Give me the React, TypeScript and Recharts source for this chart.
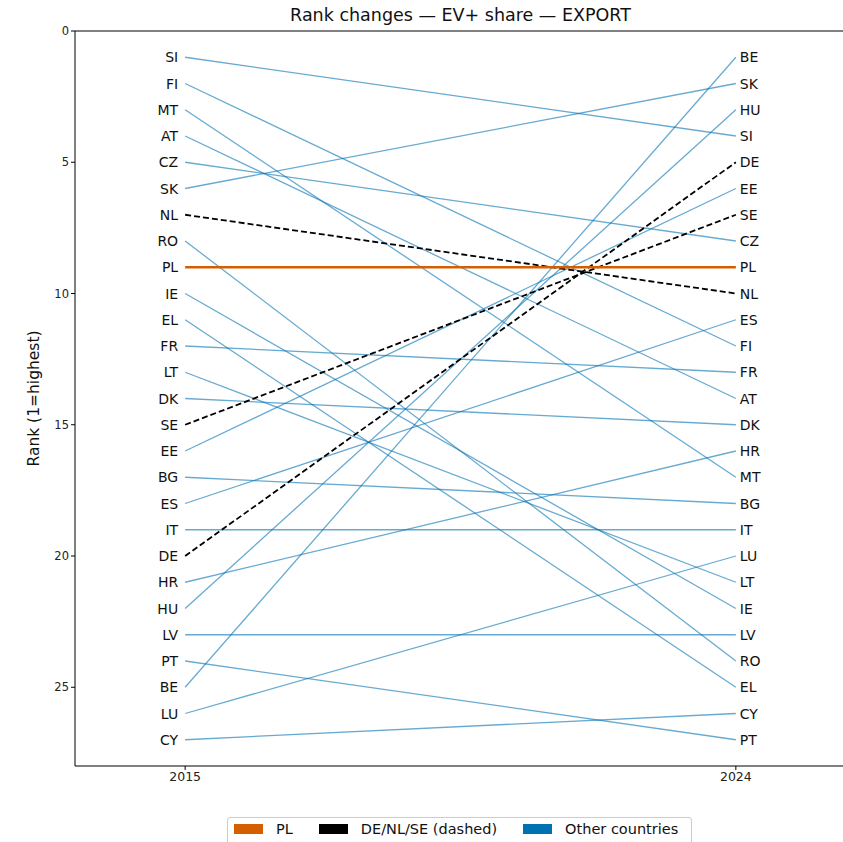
import { LineChart, Line, XAxis, YAxis, ReferenceLine, Label } from 'recharts';

const countries = ['SI', 'FI', 'MT', 'AT', 'CZ', 'SK', 'NL', 'RO', 'PL', 'IE', 'EL', 'FR', 'LT', 'DK', 'SE', 'EE', 'BG', 'ES', 'IT', 'DE', 'HR', 'HU', 'LV', 'PT', 'BE', 'LU', 'CY'];
const rank2015 = [1, 2, 3, 4, 5, 6, 7, 8, 9, 10, 11, 12, 13, 14, 15, 16, 17, 18, 19, 20, 21, 22, 23, 24, 25, 26, 27];
const rank2024 = [4, 12, 17, 14, 8, 2, 10, 24, 9, 22, 25, 13, 21, 15, 7, 6, 18, 11, 19, 5, 16, 3, 23, 27, 1, 20, 26];
const years = ['2015', '2024'];
const highlighted = ['DE', 'NL', 'SE'];
const yTicks = [0, 5, 10, 15, 20, 25];

const FONT = 'DejaVu Sans, sans-serif';
const BLUE = '#0072B2';
const ORANGE = '#D55E00';

const series = countries.map((c, i) => ({
  name: c,
  points: [
    { x: 0, y: rank2015[i] },
    { x: 1, y: rank2024[i] },
  ],
}));

const makeLabel = (name: string) => (props: any) => {
  const { x, y, index } = props;
  const left = index === 0;
  return (
    <text
      key={`${name}-${index}`}
      x={left ? x - 7 : x + 4}
      y={y}
      dy={5}
      textAnchor={left ? 'end' : 'start'}
      fontSize={14}
      fontFamily={FONT}
      fill="#111"
    >
      {name}
    </text>
  );
};

export default function App() {
  const others = series.filter((s) => s.name !== 'PL' && !highlighted.includes(s.name));
  const dashed = series.filter((s) => highlighted.includes(s.name));
  const pl = series.filter((s) => s.name === 'PL');

  return (
    <div style={{ position: 'absolute', left: 0, top: 0, width: 843, height: 842, overflow: 'hidden', background: '#fff' }}>
      <div style={{ position: 'absolute', top: 5, left: 75, width: 771, textAlign: 'center', fontFamily: FONT, fontSize: 17.5, color: '#111' }}>
        Rank changes — EV+ share — EXPORT
      </div>
      <LineChart width={850} height={842} margin={{ top: 31, right: 4, bottom: 46, left: 0 }}>
        <XAxis
          dataKey="x"
          type="number"
          domain={[-0.2, 1.2]}
          ticks={[0, 1]}
          tickFormatter={(v: number) => years[v]}
          allowDataOverflow
          height={30}
          stroke="#000"
          tickSize={4}
          tick={{ fontSize: 12.5, fontFamily: FONT, fill: '#222' }}
        />
        <YAxis
          type="number"
          domain={[0, 28]}
          reversed
          ticks={yTicks}
          width={75}
          stroke="#000"
          tickSize={4}
          allowDataOverflow
          tick={{ fontSize: 11.5, fontFamily: FONT, fill: '#222' }}
        >
          <Label
            value="Rank (1=highest)"
            angle={-90}
            position="insideLeft"
            offset={33}
            style={{ fontSize: 15.5, fontFamily: FONT, fill: '#111', textAnchor: 'middle' }}
          />
        </YAxis>
        <ReferenceLine y={0} stroke="#000" strokeWidth={1} />
        {others.map((s) => (
          <Line
            key={s.name}
            data={s.points}
            dataKey="y"
            stroke={BLUE}
            strokeOpacity={0.6}
            strokeWidth={1.3}
            dot={false}
            isAnimationActive={false}
            label={makeLabel(s.name)}
          />
        ))}
        {dashed.map((s) => (
          <Line
            key={s.name}
            data={s.points}
            dataKey="y"
            stroke="#000"
            strokeWidth={1.8}
            strokeDasharray="6 3"
            dot={false}
            isAnimationActive={false}
            label={makeLabel(s.name)}
          />
        ))}
        {pl.map((s) => (
          <Line
            key={s.name}
            data={s.points}
            dataKey="y"
            stroke={ORANGE}
            strokeWidth={2.6}
            dot={false}
            isAnimationActive={false}
            label={makeLabel(s.name)}
          />
        ))}
      </LineChart>
      <div
        style={{
          position: 'absolute',
          left: 227,
          top: 817,
          width: 465,
          height: 30,
          border: '1px solid #ccc',
          borderRadius: 3,
          display: 'flex',
          alignItems: 'flex-start',
          paddingTop: 3,
          boxSizing: 'border-box',
          fontFamily: FONT,
          fontSize: 14.5,
          color: '#111',
        }}
      >
        {[
          { label: 'PL', color: ORANGE },
          { label: 'DE/NL/SE (dashed)', color: '#000' },
          { label: 'Other countries', color: BLUE },
        ].map((item, i) => (
          <div key={item.label} style={{ display: 'flex', alignItems: 'center', marginLeft: i === 0 ? 6 : 26 }}>
            <span style={{ display: 'inline-block', width: 29, height: 10, background: item.color, marginRight: 13 }} />
            <span>{item.label}</span>
          </div>
        ))}
      </div>
    </div>
  );
}
